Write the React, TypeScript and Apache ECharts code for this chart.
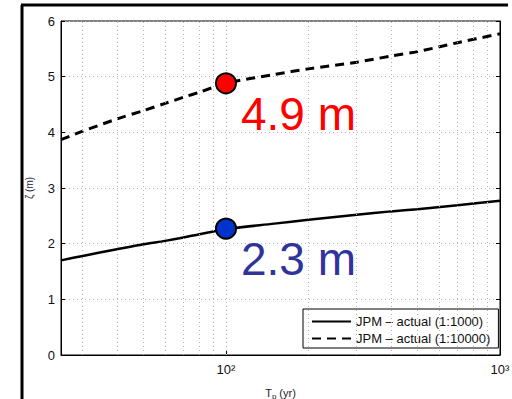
import React, { useEffect, useRef } from "react";
import * as echarts from "echarts";

// Return period T_p (yr) and surge zeta (m)
const T = [25, 30, 40, 50, 60, 70, 80, 100, 150, 200, 300, 400, 500, 700, 1000];
const zeta1000 = [1.7, 1.78, 1.9, 1.99, 2.05, 2.11, 2.17, 2.26, 2.36, 2.43, 2.52, 2.58, 2.62, 2.69, 2.77];
const zeta10000 = [3.87, 4.02, 4.24, 4.39, 4.52, 4.63, 4.72, 4.88, 5.04, 5.14, 5.26, 5.37, 5.45, 5.61, 5.77];
const seriesNames = ["JPM \u2013 actual (1:1000)", "JPM \u2013 actual (1:10000)"];
const gridT = [30, 40, 50, 60, 70, 80, 90, 100, 200, 300, 400, 500, 600, 700, 800, 900];
const markT = 100;
const markLow = 2.27;
const markHigh = 4.88;
const markLowLabel = "2.3 m";
const markHighLabel = "4.9 m";
const supers: Record<number, string> = { 1: "\u00b9", 2: "\u00b2", 3: "\u00b3" };

export default function App() {
  const ref = useRef<HTMLDivElement>(null);
  useEffect(() => {
    document.body.style.margin = "0";
    const chart = echarts.init(ref.current!, null, { renderer: "svg" });
    const font = "'Liberation Sans', Arial, sans-serif";
    chart.setOption({
      animation: false,
      backgroundColor: "#fff",
      textStyle: { fontFamily: font },
      grid: {
        left: 61,
        top: 21,
        right: 12,
        bottom: 44,
        show: true,
        borderColor: "#000",
        borderWidth: 1,
        containLabel: false,
        outerBoundsMode: "none",
      },
      legend: {
        data: seriesNames,
        orient: "vertical",
        left: 303,
        top: 309,
        padding: [6, 8, 3, 8],
        itemGap: 4,
        itemWidth: 39,
        itemHeight: 12,
        borderColor: "#000",
        borderWidth: 1,
        backgroundColor: "#fff",
        itemStyle: { opacity: 0 },
        textStyle: { fontSize: 13, color: "#111", fontFamily: font },
      },
      xAxis: {
        type: "log",
        logBase: 10,
        min: 25,
        max: 1000,
        name: "T{sub|p} (yr)",
        nameLocation: "middle",
        nameGap: 30,
        nameTextStyle: {
          fontSize: 11,
          color: "#222",
          rich: { sub: { fontSize: 8, padding: [7, 0, 0, 0], color: "#222" } },
        },
        axisLine: { lineStyle: { color: "#000", width: 1 } },
        axisTick: { inside: true, length: 4, lineStyle: { color: "#000" } },
        splitLine: { show: false },
        axisLabel: {
          fontSize: 13,
          color: "#111",
          margin: 8,
          showMinLabel: false,
          formatter: (v: number) => {
            const e = Math.round(Math.log10(v));
            if (Math.abs(Math.log10(v) - e) > 1e-6) return "";
            return "10" + (supers[e] || "");
          },
        },
      },
      yAxis: [
        {
          type: "value",
          min: 0,
          max: 6,
          interval: 1,
          name: "\u03b6 (m)",
          nameLocation: "middle",
          nameGap: 27,
          nameTextStyle: { fontSize: 10, color: "#223" },
          axisLine: { show: true, lineStyle: { color: "#000", width: 1 } },
          axisTick: { show: true, inside: true, length: 4, lineStyle: { color: "#000" } },
          axisLabel: { fontSize: 13, color: "#111", margin: 6 },
          splitLine: { show: true, lineStyle: { type: [1, 3], color: "#b4b4b4", width: 1 } },
        },
        {
          type: "value",
          min: 0,
          max: 6,
          interval: 1,
          position: "right",
          axisLine: { show: true, lineStyle: { color: "#000", width: 1 } },
          axisTick: { show: true, inside: true, length: 4, lineStyle: { color: "#000" } },
          axisLabel: { show: false },
          splitLine: { show: false },
        },
      ],
      series: [
        {
          name: seriesNames[0],
          type: "line",
          data: T.map((t, i) => [t, zeta1000[i]]),
          showSymbol: false,
          symbol: "none",
          smooth: 0.3,
          lineStyle: { color: "#000", width: 2.5, type: "solid" },
          itemStyle: { color: "#000" },
          markLine: {
            silent: true,
            symbol: "none",
            label: { show: false },
            lineStyle: { type: [1, 3], color: "#b4b4b4", width: 1 },
            data: gridT.map((t) => ({ xAxis: t })),
          },
          z: 3,
        },
        {
          name: seriesNames[1],
          type: "line",
          data: T.map((t, i) => [t, zeta10000[i]]),
          showSymbol: false,
          symbol: "none",
          smooth: 0.3,
          lineStyle: { color: "#000", width: 3, type: [9, 6] },
          itemStyle: { color: "#000" },
          z: 3,
        },
        {
          type: "scatter",
          data: [[markT, markHigh]],
          symbolSize: 20,
          itemStyle: { color: "#ff0000", borderColor: "#000", borderWidth: 2, opacity: 1 },
          label: {
            show: true,
            position: "right",
            distance: 4,
            offset: [0, 31],
            formatter: markHighLabel,
            fontSize: 46,
            color: "#ff0000",
            fontFamily: font,
          },
          z: 5,
        },
        {
          type: "scatter",
          data: [[markT, markLow]],
          symbolSize: 20,
          itemStyle: { color: "#0033cc", borderColor: "#000", borderWidth: 2, opacity: 1 },
          label: {
            show: true,
            position: "right",
            distance: 4,
            offset: [0, 30],
            formatter: markLowLabel,
            fontSize: 46,
            color: "#30339a",
            fontFamily: font,
          },
          z: 5,
        },
      ],
      graphic: [
        { type: "line", shape: { x1: 22, y1: 5, x2: 22, y2: 399 }, style: { stroke: "#000", lineWidth: 3 } },
        { type: "line", shape: { x1: 21, y1: 5, x2: 508, y2: 5 }, style: { stroke: "#000", lineWidth: 3 } },
      ],
    });
    return () => chart.dispose();
  }, []);
  return <div ref={ref} style={{ width: 512, height: 399 }} />;
}
